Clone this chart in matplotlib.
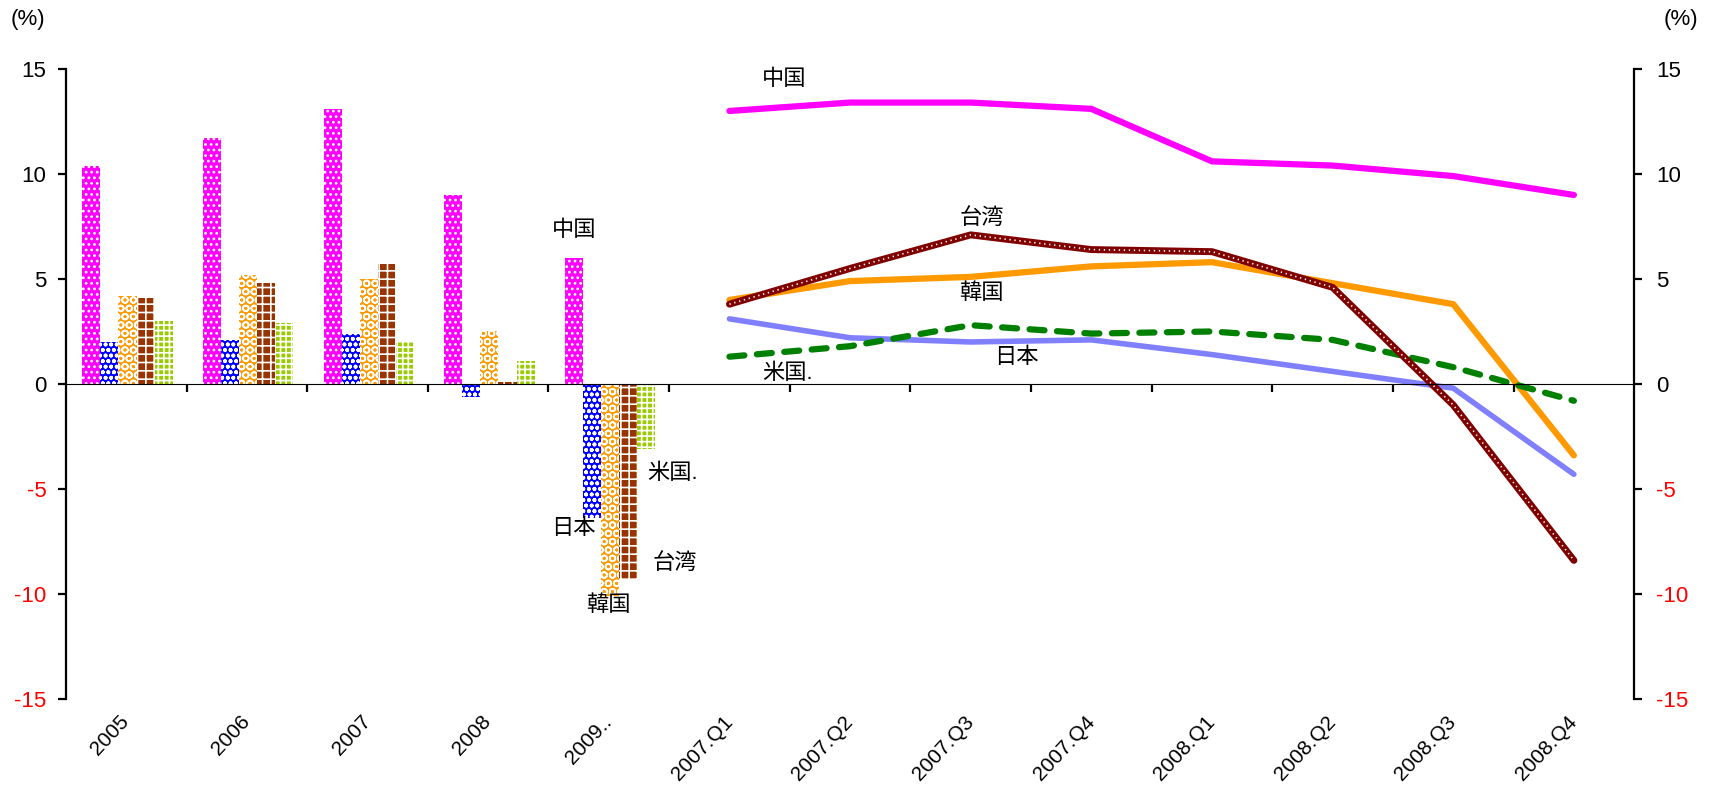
import matplotlib
matplotlib.use('Agg')
import matplotlib.pyplot as plt
import numpy as np

plt.rcParams['font.family'] = ['Liberation Sans', 'Noto Sans CJK JP', 'DejaVu Sans']
plt.rcParams['hatch.linewidth'] = 1.2

# Data
CATEGORIES = ['2005', '2006', '2007', '2008', '2009..',
              '2007.Q1', '2007.Q2', '2007.Q3', '2007.Q4',
              '2008.Q1', '2008.Q2', '2008.Q3', '2008.Q4']
COUNTRIES = ['中国', '日本', '韓国', '台湾', '米国.']

# annual growth (bars), one list per country, 2005-2009
china_year = [10.4, 11.7, 13.1, 9.0, 6.0]
japan_year = [2.0, 2.1, 2.4, -0.6, -6.4]
korea_year = [4.2, 5.2, 5.0, 2.5, -10.1]
taiwan_year = [4.1, 4.8, 5.7, 0.1, -9.3]
us_year = [3.0, 2.9, 2.0, 1.1, -3.1]

# quarterly growth (lines), 2007.Q1-2008.Q4
china_q = [13.0, 13.4, 13.4, 13.1, 10.6, 10.4, 9.9, 9.0]
japan_q = [3.1, 2.2, 2.0, 2.1, 1.4, 0.6, -0.2, -4.3]
korea_q = [4.0, 4.9, 5.1, 5.6, 5.8, 4.8, 3.8, -3.4]
taiwan_q = [3.8, 5.5, 7.1, 6.4, 6.3, 4.6, -1.0, -8.4]
us_q = [1.3, 1.8, 2.8, 2.4, 2.5, 2.1, 0.8, -0.8]

Y_TICKS = [-15, -10, -5, 0, 5, 10, 15]

fig = plt.figure(figsize=(17.13, 7.9), dpi=100)
ax = fig.add_axes([0.0385, 0.1152, 0.9155, 0.7975])

# bars
yx = np.arange(5)
w = 0.15
bar_styles = [
    (china_year, '#ff00ff', '...'),
    (japan_year, '#0000ff', 'ooo'),
    (korea_year, '#ff9900', 'OO'),
    (taiwan_year, '#993300', '++'),
    (us_year, '#99cc00', '+++'),
]
for k, (vals, col, hatch) in enumerate(bar_styles):
    ax.bar(yx + (k - 2) * w + 0.01, vals, width=w, color=col, edgecolor='white',
           linewidth=0, hatch=hatch, zorder=2)

# lines
qx = np.arange(5, 13)
ax.plot(qx, japan_q, color='#8080ff', lw=4.0, zorder=3, solid_capstyle='round')
ax.plot(qx, korea_q, color='#ff9900', lw=4.5, zorder=4, solid_capstyle='round')
ax.plot(qx, us_q, color='#008000', lw=4.5, zorder=5, dashes=(2.4, 2.0),
        dash_capstyle='round')
ax.plot(qx, taiwan_q, color='#800000', lw=5, zorder=6, solid_capstyle='round')
ax.plot(qx, taiwan_q, color='white', lw=1.2, zorder=7, dashes=(0.8, 2.2))
ax.plot(qx, china_q, color='#ff00ff', lw=4.5, zorder=8, solid_capstyle='round')

ax.set_xlim(-0.5, 12.5)
ax.set_ylim(-15, 15)

# axes styling
for s in ['top', 'bottom']:
    ax.spines[s].set_visible(False)
ax.spines['left'].set_linewidth(1.6)
ax.spines['right'].set_visible(False)

ax.set_yticks(Y_TICKS)
ax.set_yticklabels([str(v) for v in Y_TICKS], fontsize=16)
ax.tick_params(axis='y', direction='out', length=6, width=1.6, pad=8)
for lab, v in zip(ax.get_yticklabels(), Y_TICKS):
    lab.set_color('red' if v < 0 else 'black')

ax.set_xticks(np.arange(13))
ax.set_xticklabels(CATEGORIES, rotation=47, ha='right', va='center',
                   rotation_mode='anchor', fontsize=15)
ax.tick_params(axis='x', length=0, pad=14)

ax2 = ax.twinx()
ax2.set_ylim(-15, 15)
for s in ['top', 'bottom', 'left']:
    ax2.spines[s].set_visible(False)
ax2.spines['right'].set_linewidth(1.6)
ax2.set_yticks(Y_TICKS)
ax2.set_yticklabels([str(v) for v in Y_TICKS], fontsize=16)
ax2.tick_params(axis='y', direction='out', length=6, width=1.6, pad=10)
for lab, v in zip(ax2.get_yticklabels(), Y_TICKS):
    lab.set_color('red' if v < 0 else 'black')

# zero line with category boundary ticks
sec = ax.secondary_xaxis(0.5)
sec.set_xticks(np.arange(0.5, 12.5, 1))
sec.set_xticklabels([])
sec.tick_params(axis='x', direction='in', length=6, width=1.6)
sec.spines['bottom'].set_linewidth(2.4)
sec.set_zorder(10)

# labels
fig.text(0.006, 0.975, '(%)', fontsize=16, va='center')
fig.text(0.971, 0.975, '(%)', fontsize=16, va='center')

lab_kw = dict(fontsize=16, ha='center', va='center', zorder=12)
ax.text(5.45, 14.5, '中国', **lab_kw)
ax.text(3.71, 7.3, '中国', **lab_kw)
ax.text(7.09, 7.9, '台湾', **lab_kw)
ax.text(7.09, 4.33, '韓国', **lab_kw)
ax.text(7.38, 1.26, '日本', **lab_kw)
ax.text(5.48, 0.52, '米国.', **lab_kw)
ax.text(4.53, -4.27, '米国.', **lab_kw)
ax.text(3.71, -6.88, '日本', **lab_kw)
ax.text(4.55, -8.55, '台湾', **lab_kw)
ax.text(4.0, -10.57, '韓国', **lab_kw)

fig.savefig('out.png', dpi=100)
